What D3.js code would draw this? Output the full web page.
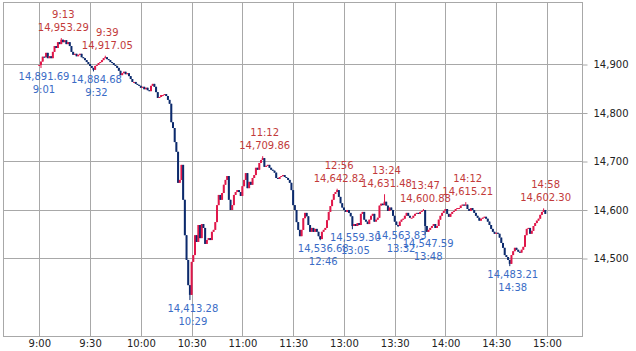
<!DOCTYPE html>
<html lang="ja">
<head>
    <meta charset="UTF-8">
    <title>Intraday chart</title>
    <style>
        body {
            margin: 0;
            padding: 0;
            overflow: hidden;
            background: #fff;
        }

        svg text {
            font-family: "DejaVu Sans", sans-serif;
            font-size: 10px;
        }

        .grid line,
        .frame {
            stroke: #a8a8a8;
            stroke-width: 1px;
            fill: none;
        }

        .axis path {
            display: none;
        }

        .axis line {
            stroke: #a8a8a8;
        }

        .axis text {
            fill: #222;
        }
    </style>
</head>
<body>
    <script src="https://d3js.org/d3.v7.min.js"></script>
    <script>
        // 1 minute closes, morning session 9:00-11:29
        const amCloses = [
            14898, 14905, 14915, 14914, 14923, 14912, 14916, 14912, 14925, 14937,
            14933, 14945, 14941, 14950, 14945, 14949, 14941, 14945, 14937, 14925,
            14919, 14921, 14916, 14919, 14921, 14914, 14912, 14908, 14904, 14900,
            14896, 14892, 14888, 14896, 14898, 14902, 14904, 14908, 14912, 14914,
            14910, 14908, 14904, 14902, 14898, 14896, 14892, 14886, 14877, 14881,
            14884, 14879, 14881, 14875, 14869, 14863, 14863, 14859, 14857, 14855,
            14851, 14853, 14848, 14851, 14846, 14844, 14855, 14859, 14853, 14842,
            14830, 14832, 14836, 14836, 14838, 14834, 14826, 14818, 14780, 14768,
            14739, 14719, 14655, 14661, 14692, 14620, 14547, 14496, 14444, 14424,
            14492, 14506, 14547, 14533, 14568, 14541, 14570, 14562, 14529, 14537,
            14541, 14537, 14554, 14558, 14574, 14609, 14630, 14620, 14634, 14651,
            14661, 14669, 14620, 14599, 14609, 14630, 14636, 14640, 14636, 14628,
            14648, 14661, 14675, 14644, 14657, 14651, 14665, 14671, 14686, 14682,
            14696, 14702, 14706, 14688, 14690, 14692, 14686, 14682, 14680, 14676,
            14665, 14663, 14667, 14669, 14671, 14667, 14665, 14661, 14655, 14640
        ];
        // afternoon session 12:30-14:59
        const pmCloses = [
            14609, 14599, 14574, 14558, 14545, 14558, 14582, 14593, 14586, 14568,
            14554, 14562, 14554, 14560, 14554, 14545, 14539, 14554, 14558, 14562,
            14578, 14595, 14607, 14620, 14632, 14636, 14640, 14626, 14613, 14604,
            14599, 14595, 14599, 14593, 14586, 14566, 14570, 14566, 14572, 14568,
            14591, 14595, 14579, 14575, 14570, 14579, 14587, 14591, 14575, 14579,
            14583, 14608, 14612, 14609, 14616, 14608, 14597, 14604, 14599, 14587,
            14575, 14568, 14566, 14575, 14579, 14581, 14587, 14593, 14587, 14583,
            14583, 14587, 14591, 14593, 14591, 14595, 14597, 14599, 14566, 14554,
            14558, 14562, 14566, 14570, 14562, 14566, 14579, 14587, 14593, 14597,
            14601, 14591, 14585, 14591, 14595, 14597, 14601, 14603, 14603, 14608,
            14610, 14608, 14610, 14601, 14597, 14603, 14599, 14593, 14587, 14583,
            14577, 14581, 14583, 14585, 14581, 14575, 14568, 14560, 14554, 14550,
            14552, 14550, 14542, 14531, 14521, 14506, 14502, 14496, 14488, 14506,
            14514, 14521, 14517, 14513, 14511, 14517, 14523, 14547, 14560, 14562,
            14550, 14556, 14566, 14572, 14577, 14581, 14589, 14595, 14599, 14591
        ];
        const firstOpen = 14896;

        const highTimes = ["9:13", "9:39", "11:12", "12:56", "13:24", "13:47", "14:12", "14:58"];
        const highValues = [14953.29, 14917.05, 14709.86, 14642.82, 14631.48, 14600.88, 14615.21, 14602.30];
        const lowTimes = ["9:01", "9:32", "10:29", "12:46", "13:05", "13:32", "13:48", "14:38"];
        const lowValues = [14891.69, 14884.68, 14413.28, 14536.68, 14559.30, 14563.83, 14547.59, 14483.21];

        const xTickLabels = ["9:00", "9:30", "10:00", "10:30", "11:00", "11:30", "13:00", "13:30", "14:00", "14:30", "15:00"];
        const yTicks = [14500, 14600, 14700, 14800, 14900];

        const width = 636, height = 351;
        const plotLeft = 3, plotRight = 582, plotTop = 2, plotBottom = 336;

        // minutes since 9:00 with the lunch break (11:30-12:30) removed
        function minuteIndex(t) {
            const [h, m] = t.split(":").map(Number);
            let idx = h * 60 + m - 540;
            if (idx > 150) idx -= 60;
            return idx;
        }

        const closes = amCloses.concat(pmCloses);
        const candles = closes.map((c, i) => {
            const o = i === 0 ? firstOpen : closes[i - 1];
            return { i, o, c, h: Math.max(o, c), l: Math.min(o, c) };
        });
        highTimes.forEach((t, k) => {
            const d = candles[minuteIndex(t)];
            d.h = Math.max(d.h, highValues[k]);
        });
        lowTimes.forEach((t, k) => {
            const d = candles[minuteIndex(t)];
            d.l = Math.min(d.l, lowValues[k]);
        });

        const x = d3.scaleLinear().domain([0, 300]).range([39.3, 547]);
        const y = d3.scaleLinear().domain([14900, 14500]).range([64, 258]);

        const svg = d3.select("body").append("svg")
            .attr("width", width)
            .attr("height", height);

        const tickMinutes = xTickLabels.map(minuteIndex);

        // grid
        const grid = svg.append("g").attr("class", "grid");
        grid.selectAll("line.v")
            .data(tickMinutes)
            .enter().append("line")
            .attr("class", "v")
            .attr("x1", d => Math.round(x(d)) + 0.5)
            .attr("x2", d => Math.round(x(d)) + 0.5)
            .attr("y1", plotTop)
            .attr("y2", plotBottom);
        grid.selectAll("line.h")
            .data(yTicks)
            .enter().append("line")
            .attr("class", "h")
            .attr("x1", plotLeft)
            .attr("x2", plotRight)
            .attr("y1", d => Math.round(y(d)) + 0.5)
            .attr("y2", d => Math.round(y(d)) + 0.5);

        svg.append("rect")
            .attr("class", "frame")
            .attr("x", plotLeft + 0.5)
            .attr("y", plotTop + 0.5)
            .attr("width", plotRight - plotLeft)
            .attr("height", plotBottom - plotTop);

        // axes
        svg.append("g")
            .attr("class", "axis")
            .attr("transform", `translate(${plotRight + 0.5},0.5)`)
            .call(d3.axisRight(y).tickValues(yTicks).tickSize(5).tickPadding(6)
                .tickFormat(d3.format(",")));

        svg.append("g")
            .attr("class", "axis")
            .attr("transform", `translate(0,${plotBottom})`)
            .call(d3.axisBottom(x).tickValues(tickMinutes).tickSize(0).tickPadding(4)
                .tickFormat((d, k) => xTickLabels[k]));

        // candles
        const upColor = "#e0174a", downColor = "#0c2a6c";
        const cg = svg.append("g");
        cg.selectAll("line")
            .data(candles)
            .enter().append("line")
            .attr("x1", d => x(d.i))
            .attr("x2", d => x(d.i))
            .attr("y1", d => y(d.h))
            .attr("y2", d => y(d.l))
            .attr("stroke", d => d.c >= d.o ? upColor : downColor)
            .attr("stroke-width", 1);
        cg.selectAll("rect")
            .data(candles)
            .enter().append("rect")
            .attr("x", d => x(d.i) - 1)
            .attr("width", 2)
            .attr("y", d => y(Math.max(d.o, d.c)))
            .attr("height", d => Math.max(1, Math.abs(y(d.o) - y(d.c))))
            .attr("fill", d => d.c >= d.o ? upColor : downColor);

        // high / low annotations
        const fmt = d3.format(",.2f");
        const hiG = svg.append("g").attr("fill", "#c23a3a").attr("text-anchor", "middle");
        highTimes.forEach((t, k) => {
            const px = x(minuteIndex(t)) + 2, py = y(highValues[k]);
            hiG.append("text").attr("x", px).attr("y", py - 20).text(t);
            hiG.append("text").attr("x", px).attr("y", py - 7).text(fmt(highValues[k]));
        });
        const loG = svg.append("g").attr("fill", "#3a6cc6").attr("text-anchor", "middle");
        lowTimes.forEach((t, k) => {
            const px = x(minuteIndex(t)) + 3, py = y(lowValues[k]);
            loG.append("text").attr("x", px).attr("y", py + 12).text(fmt(lowValues[k]));
            loG.append("text").attr("x", px).attr("y", py + 25).text(t);
        });
    </script>
</body>
</html>
